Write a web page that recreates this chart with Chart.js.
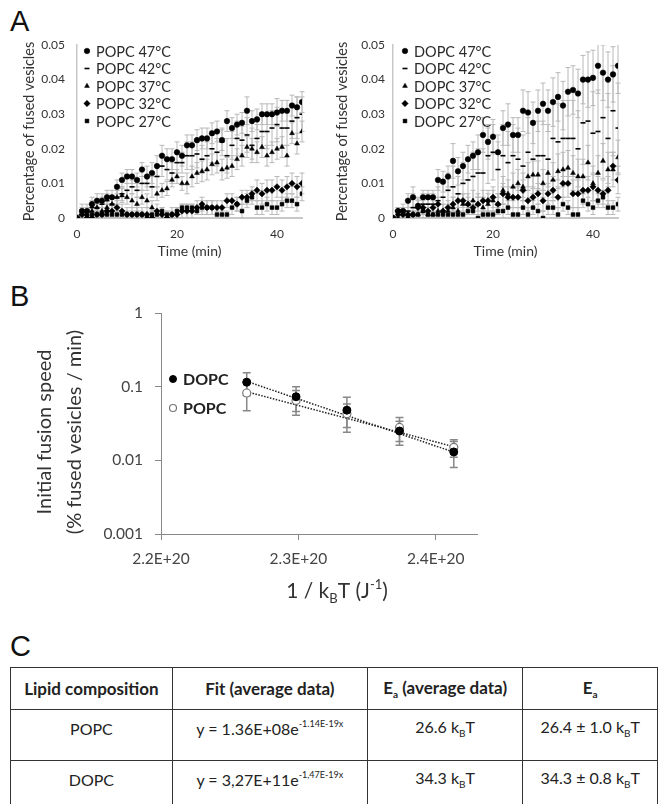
<!DOCTYPE html>
<html lang="en">
<head>
<meta charset="UTF-8">
<title>Vesicle fusion kinetics</title>
<script src="https://cdn.jsdelivr.net/npm/chart.js"></script>
<style>
  body { margin: 0; background: #fff; }
  #page { position: relative; width: 658px; height: 804px; overflow: hidden; font-family: Lato, sans-serif; color: #222; }
  .panel-label { position: absolute; left: 10px; font-family: 'Liberation Sans', Arial, sans-serif; font-size: 29px; line-height: 1; color: #111; }
  canvas { position: absolute; }
  #ea-table { position: absolute; left: 10px; top: 667px; border-collapse: collapse; table-layout: fixed; font-size: 16px; }
  #ea-table th, #ea-table td { border: 1.5px solid #333; text-align: center; padding: 0; white-space: nowrap; }
  #ea-table th { font-weight: bold; font-size: 17px; height: 41px; }
  #ea-table tr.r1 td { height: 36px; padding-bottom: 14px; }
  #ea-table tr.r2 td { height: 36px; padding-bottom: 8px; }
  #ea-table sub { font-size: 10px; vertical-align: -4px; }
  #ea-table sup { font-size: 9px; vertical-align: 8px; }
</style>
</head>
<body>
<div id="page">
  <div class="panel-label" style="top:7px">A</div>
  <div class="panel-label" style="top:282px">B</div>
  <div class="panel-label" style="top:632px">C</div>

  <canvas id="popcChart" width="330" height="270" style="left:0;top:0"></canvas>
  <canvas id="dopcChart" width="328" height="270" style="left:330px;top:0"></canvas>
  <canvas id="speedChart" width="560" height="330" style="left:0;top:280px"></canvas>

  <!-- C: activation energies -->
  <table id="ea-table">
    <colgroup><col style="width:163px"><col style="width:197px"><col style="width:157px"><col style="width:136px"></colgroup>
    <tr><th>Lipid composition</th><th>Fit (average data)</th><th>E<sub>a</sub> (average data)</th><th>E<sub>a</sub></th></tr>
    <tr class="r1"><td>POPC</td><td>y = 1.36E+08e<sup>-1.14E-19x</sup></td><td>26.6 k<sub>B</sub>T</td><td>26.4 ± 1.0 k<sub>B</sub>T</td></tr>
    <tr class="r2"><td>DOPC</td><td>y = 3,27E+11e<sup>-1,47E-19x</sup></td><td>34.3 k<sub>B</sub>T</td><td>34.3 ± 0.8 k<sub>B</sub>T</td></tr>
  </table>
</div>

<script>
  // ---- A: fused vesicles vs time ----
  const minutes = [0,1,2,3,4,5,6,7,8,9,10,11,12,13,14,15,16,17,18,19,20,21,22,23,24,25,26,27,28,29,30,31,32,33,34,35,36,37,38,39,40,41,42,43,44,45];
  const timeTicks = [0, 20, 40];
  const timeTickLabels = ['0', '20', '40'];
  const fusedTicks = [0, 0.01, 0.02, 0.03, 0.04, 0.05];
  const fusedTickLabels = ['0', '0.01', '0.02', '0.03', '0.04', '0.05'];

  const popcLabels = ['POPC 47°C', 'POPC 42°C', 'POPC 37°C', 'POPC 32°C', 'POPC 27°C'];
  const popc47 = [0,0.002,0.002,0.004,0.005,0.005,0.006,0.006,0.009,0.011,0.012,0.012,0.011,0.014,0.012,0.013,0.015,0.018,0.017,0.017,0.019,0.018,0.021,0.021,0.0225,0.023,0.023,0.0245,0.025,0.0225,0.028,0.026,0.027,0.0275,0.031,0.028,0.0285,0.030,0.030,0.030,0.0305,0.031,0.031,0.0325,0.032,0.0335];
  const popc42 = [0,0.001,0.002,0.003,0.003,0.004,0.005,0.004,0.006,0.007,0.008,0.009,0.008,0.010,0.010,0.009,0.012,0.015,0.014,0.013,0.016,0.016,0.018,0.018,0.0185,0.017,0.018,0.020,0.019,0.022,0.018,0.021,0.023,0.0225,0.024,0.021,0.023,0.025,0.025,0.026,0.027,0.026,0.026,0.028,0.029,0.030];
  const popc37 = [0,0.001,0.001,0.002,0.003,0.002,0.003,0.004,0.006,0.0065,0.006,0.005,0.004,0.006,0.005,0.003,0.007,0.008,0.0085,0.011,0.012,0.010,0.010,0.012,0.013,0.0135,0.014,0.0155,0.016,0.014,0.0145,0.015,0.017,0.018,0.0205,0.020,0.019,0.0205,0.018,0.019,0.020,0.0205,0.018,0.0245,0.0215,0.025];
  const popc32 = [0,0.001,0,0,0.001,0.001,0.002,0.002,0.003,0.002,0.001,0.001,0.001,0.001,0.001,0,0.002,0.001,0,0.001,0.001,0.002,0.002,0.002,0.003,0.004,0.003,0.003,0.003,0.003,0.005,0.005,0.004,0.006,0.006,0.007,0.008,0.007,0.008,0.008,0.009,0.008,0.009,0.010,0.009,0.010];
  const popc27 = [0,0.002,0.001,0.001,0.001,0.001,0.001,0.001,0.001,0.001,0.001,0.001,0.001,0.001,0,0.001,0.001,0.002,0.001,0.001,0.002,0.003,0.003,0.003,0.002,0.003,0.003,0.003,0.001,0.001,0.001,0.003,0.004,0.002,0.005,0.006,0.003,0.003,0.004,0.003,0.003,0.004,0.005,0.005,0.004,0.007];
  const popc47Err = [0,0.002,0.002,0.002,0.002,0.002,0.002,0.002,0.002,0.002,0.002,0.002,0.002,0.002,0.003,0.003,0.003,0.003,0.003,0.003,0.003,0.003,0.003,0.003,0.003,0.003,0.003,0.003,0.003,0.003,0.003,0.003,0.003,0.003,0.004,0.003,0.003,0.003,0.003,0.003,0.004,0.003,0.003,0.003,0.003,0.003];
  const popc42Err = [0,0.001,0.001,0.002,0.002,0.002,0.002,0.002,0.002,0.002,0.002,0.002,0.002,0.002,0.002,0.003,0.003,0.003,0.003,0.003,0.003,0.003,0.004,0.004,0.004,0.004,0.004,0.004,0.004,0.004,0.005,0.004,0.005,0.004,0.005,0.005,0.004,0.005,0.005,0.005,0.005,0.005,0.005,0.005,0.006,0.005];
  const popc37Err = [0,0.001,0.001,0.001,0.001,0.002,0.001,0.002,0.002,0.002,0.002,0.002,0.002,0.002,0.002,0.002,0.002,0.002,0.002,0.002,0.002,0.002,0.003,0.003,0.003,0.003,0.003,0.003,0.003,0.003,0.003,0.003,0.003,0.003,0.003,0.003,0.003,0.003,0.003,0.003,0.003,0.003,0.003,0.003,0.003,0.003];
  const popc32Err = [0,0.001,0.001,0.001,0.001,0.001,0.001,0.002,0.002,0.002,0.002,0.002,0.002,0.002,0.002,0.002,0.002,0.002,0.002,0.002,0.002,0.002,0.002,0.002,0.002,0.002,0.002,0.002,0.002,0.002,0.002,0.002,0.002,0.002,0.002,0.002,0.003,0.003,0.003,0.003,0.003,0.003,0.003,0.003,0.003,0.003];
  const popc27Err = [0,0.001,0.001,0.001,0.001,0.001,0.001,0.001,0.001,0.001,0.001,0.001,0.001,0.001,0.001,0.001,0.001,0.001,0.001,0.001,0.001,0.001,0.001,0.001,0.001,0.002,0.002,0.002,0.001,0.001,0.001,0.002,0.002,0.002,0.002,0.002,0.002,0.002,0.002,0.002,0.002,0.002,0.002,0.002,0.002,0.002];

  const dopcLabels = ['DOPC 47°C', 'DOPC 42°C', 'DOPC 37°C', 'DOPC 32°C', 'DOPC 27°C'];
  const dopc47 = [0,0.002,0.002,0.005,0.006,0.0035,0.006,0.006,0.006,0.011,0.0105,0.012,0.0165,0.0135,0.015,0.017,0.018,0.019,0.024,0.022,0.0235,0.019,0.026,0.027,0.024,0.024,0.031,0.0305,0.0275,0.031,0.033,0.031,0.0335,0.035,0.0325,0.0365,0.037,0.036,0.040,0.040,0.0405,0.044,0.042,0.040,0.0415,0.044];
  const dopc42 = [0,0.001,0.002,0.002,0.003,0.003,0.004,0.004,0.004,0.005,0.006,0.008,0.009,0.007,0.010,0.011,0.012,0.013,0.013,0.018,0.019,0.014,0.018,0.016,0.018,0.017,0.015,0.019,0.017,0.018,0.018,0.017,0.023,0.022,0.023,0.023,0.023,0.020,0.0275,0.028,0.0245,0.025,0.029,0.023,0.031,0.026];
  const dopc37 = [0,0,0.001,0.001,0.001,0.001,0.002,0.001,0.001,0.002,0.002,0.002,0.003,0.002,0.004,0.004,0.005,0.004,0.003,0.004,0.005,0.004,0.008,0.007,0.009,0.010,0.009,0.012,0.0125,0.0125,0.010,0.013,0.011,0.0135,0.014,0.0145,0.013,0.012,0.012,0.016,0.010,0.013,0.0165,0.014,0.014,0.0175];
  const dopc32 = [0,0.002,0.001,0.001,0.001,0.003,0.003,0.002,0.003,0.004,0.002,0.003,0.004,0.005,0.005,0.004,0.003,0.004,0.005,0.005,0.006,0.004,0.007,0.006,0.006,0.006,0.008,0.005,0.006,0.007,0.005,0.007,0.008,0.006,0.010,0.010,0.007,0.007,0.008,0.008,0.009,0.008,0.007,0.008,0.015,0.011];
  const dopc27 = [0,0.001,0.002,0,0.001,0.001,0.002,0.001,0.001,0.001,0.001,0.001,0.001,0.001,0.001,0.002,0.002,0,0.001,0.001,0.001,0.002,0.002,0.003,0.001,0.001,0.003,0.001,0.003,0.002,0,0.003,0.003,0.001,0.004,0.003,0.001,0.001,0.005,0.004,0.003,0.005,0.006,0.003,0.003,0.004];
  const dopc47Err = [0,0.001,0.001,0.002,0.003,0.002,0.002,0.002,0.002,0.003,0.003,0.003,0.005,0.004,0.004,0.004,0.004,0.005,0.005,0.005,0.005,0.005,0.005,0.006,0.005,0.005,0.006,0.006,0.006,0.006,0.006,0.006,0.007,0.007,0.007,0.007,0.007,0.007,0.007,0.008,0.008,0.008,0.008,0.008,0.008,0.008];
  const dopc42Err = [0,0.002,0.002,0.003,0.004,0.003,0.003,0.003,0.003,0.004,0.004,0.005,0.006,0.005,0.006,0.006,0.007,0.007,0.007,0.008,0.008,0.008,0.009,0.009,0.009,0.009,0.009,0.010,0.010,0.010,0.010,0.010,0.011,0.011,0.011,0.011,0.011,0.011,0.012,0.012,0.012,0.012,0.013,0.013,0.013,0.013];
  const dopc37Err = [0,0.001,0.001,0.001,0.001,0.001,0.002,0.002,0.002,0.002,0.002,0.002,0.003,0.003,0.003,0.003,0.003,0.003,0.003,0.003,0.003,0.003,0.004,0.004,0.004,0.004,0.004,0.004,0.004,0.004,0.004,0.004,0.005,0.005,0.005,0.005,0.005,0.005,0.005,0.005,0.005,0.005,0.005,0.005,0.005,0.005];
  const dopc32Err = [0,0.001,0.001,0.001,0.001,0.002,0.002,0.002,0.002,0.002,0.002,0.002,0.002,0.002,0.002,0.002,0.002,0.002,0.003,0.003,0.003,0.003,0.003,0.003,0.003,0.003,0.003,0.003,0.003,0.003,0.003,0.003,0.003,0.003,0.004,0.004,0.004,0.004,0.004,0.004,0.004,0.004,0.004,0.004,0.004,0.004];
  const dopc27Err = [0,0.001,0.001,0.001,0.001,0.001,0.001,0.001,0.001,0.001,0.001,0.001,0.001,0.001,0.001,0.001,0.001,0.001,0.001,0.001,0.001,0.001,0.002,0.002,0.002,0.002,0.002,0.002,0.002,0.002,0.002,0.002,0.002,0.002,0.002,0.002,0.002,0.002,0.002,0.002,0.002,0.002,0.002,0.002,0.002,0.002];

  // ---- B: Arrhenius plot ----
  const invKT = [2.2624e20, 2.2983e20, 2.3353e20, 2.3736e20, 2.4131e20];
  const dopcSpeed = [0.115, 0.073, 0.048, 0.025, 0.013];
  const dopcSpeedErr = [0.04, 0.027, 0.024, 0.009, 0.005];
  const popcSpeed = [0.082, 0.065, 0.043, 0.028, 0.015];
  const popcSpeedErr = [0.035, 0.024, 0.015, 0.010, 0.004];
  const fitX = [2.2624e20, 2.4131e20];
  const dopcFit = [0.118, 0.0129];
  const popcFit = [0.0853, 0.0153];
  const invKTTicks = [2.2e20, 2.3e20, 2.4e20];
  const invKTTickLabels = ['2.2E+20', '2.3E+20', '2.4E+20'];
  const speedTicks = [0.001, 0.01, 0.1, 1];
  const speedTickLabels = ['0.001', '0.01', '0.1', '1'];

  const FONT = 'Lato, sans-serif';
  // marker look per temperature, 47 → 27 °C
  const markerStyles = [
    { pointStyle: 'circle', radius: 2.8 },
    { pointStyle: 'line', radius: 2.5 },
    { pointStyle: 'triangle', radius: 2.8 },
    { pointStyle: 'rectRot', radius: 3.2 },
    { pointStyle: 'rect', radius: 2.7 }
  ];

  const xy = (xs, ys) => xs.map((x, i) => ({ x, y: ys[i] }));

  // error bars drawn under the markers
  const errorBars = {
    id: 'errorBars',
    beforeDatasetsDraw(chart, args, opts) {
      const { ctx, chartArea } = chart;
      ctx.save();
      ctx.beginPath();
      ctx.rect(chartArea.left - 5, chartArea.top, chartArea.width + 10, chartArea.height);
      ctx.clip();
      chart.data.datasets.forEach((ds, di) => {
        if (!ds.errors) return;
        const meta = chart.getDatasetMeta(di);
        const xs = chart.scales[meta.xAxisID], ys = chart.scales[meta.yAxisID];
        ctx.strokeStyle = opts.color;
        ctx.lineWidth = opts.width;
        ds.data.forEach((p, i) => {
          const e = ds.errors[i];
          if (!e) return;
          const x = xs.getPixelForValue(p.x);
          const yHi = ys.getPixelForValue(p.y + e);
          const yLo = ys.getPixelForValue(p.y - e);
          ctx.beginPath();
          ctx.moveTo(x, yHi); ctx.lineTo(x, yLo);
          ctx.moveTo(x - opts.cap, yHi); ctx.lineTo(x + opts.cap, yHi);
          ctx.moveTo(x - opts.cap, yLo); ctx.lineTo(x + opts.cap, yLo);
          ctx.stroke();
        });
      });
      ctx.restore();
    }
  };

  // legend with markers placed inside the plot
  const markerLegend = {
    id: 'markerLegend',
    afterDraw(chart, args, o) {
      if (o.x === undefined) return;
      const ctx = chart.ctx;
      ctx.save();
      ctx.textBaseline = 'middle';
      let row = 0;
      chart.data.datasets.forEach(ds => {
        if (ds.noLegend) return;
        const y = o.y + row * o.gap;
        row++;
        ctx.fillStyle = ds.pointBackgroundColor;
        ctx.strokeStyle = ds.pointBorderColor;
        ctx.lineWidth = ds.pointBorderWidth;
        Chart.helpers.drawPoint(ctx, { pointStyle: ds.pointStyle, radius: o.radius || ds.pointRadius, rotation: 0, borderWidth: ds.pointBorderWidth }, o.x, y);
        ctx.font = o.font;
        ctx.fillStyle = o.color;
        ctx.fillText(ds.label, o.x + o.textGap, y + 1);
      });
      ctx.restore();
    }
  };

  // x title with sub/superscript parts
  const richTitle = {
    id: 'richTitle',
    afterDraw(chart, args, o) {
      if (!o.parts) return;
      const ctx = chart.ctx;
      ctx.save();
      ctx.fillStyle = o.color;
      ctx.textBaseline = 'alphabetic';
      const fontOf = p => `${p.k ? Math.round(o.size * 0.62) : o.size}px ${FONT}`;
      let w = 0;
      o.parts.forEach(p => { ctx.font = fontOf(p); w += ctx.measureText(p.t).width; });
      let x = o.x - w / 2;
      o.parts.forEach(p => {
        ctx.font = fontOf(p);
        const dy = p.k === 'sub' ? o.size * 0.22 : p.k === 'sup' ? -o.size * 0.42 : 0;
        ctx.fillText(p.t, x, o.y + dy);
        x += ctx.measureText(p.t).width;
      });
      ctx.restore();
    }
  };

  // rotated y title lines, centred on a chosen height
  const sideTitle = {
    id: 'sideTitle',
    afterDraw(chart, args, o) {
      if (!o.lines) return;
      const ctx = chart.ctx;
      ctx.save();
      ctx.font = o.font;
      ctx.fillStyle = o.color;
      ctx.textAlign = 'center';
      ctx.textBaseline = 'middle';
      o.lines.forEach(l => {
        ctx.save();
        ctx.translate(l.x, o.cy);
        ctx.rotate(-Math.PI / 2);
        ctx.fillText(l.text, 0, 0);
        ctx.restore();
      });
      ctx.restore();
    }
  };

  Chart.register(errorBars, markerLegend, richTitle, sideTitle);

  function timeChart(id, labels, series, errors, layout) {
    const datasets = series.map((vals, i) => ({
      label: labels[i],
      data: xy(minutes, vals),
      errors: errors[i],
      pointStyle: markerStyles[i].pointStyle,
      pointRadius: markerStyles[i].radius,
      pointBackgroundColor: '#000',
      pointBorderColor: '#000',
      pointBorderWidth: markerStyles[i].pointStyle === 'line' ? 1.6 : 0.5,
      showLine: false
    }));
    return new Chart(document.getElementById(id), {
      type: 'scatter',
      data: { datasets },
      options: {
        responsive: false,
        animation: false,
        events: [],
        layout: { padding: { left: 0, top: 45, right: layout.right, bottom: 0 } },
        plugins: {
          legend: { display: false },
          tooltip: { enabled: false },
          errorBars: { color: '#b8b8b8', width: 1, cap: 2.5 },
          markerLegend: { x: layout.legendX, y: 51, gap: 17.5, textGap: 9, font: `14.5px ${FONT}`, color: '#2a2a2a' }
        },
        scales: {
          x: {
            type: 'linear', min: 0, max: 45,
            afterBuildTicks: s => { s.ticks = timeTicks.map(v => ({ value: v })); },
            afterFit: s => { s.height = 52; },
            grid: { display: false, drawTicks: false },
            border: { color: '#c8c8c8', width: 2 },
            ticks: { padding: 9, maxRotation: 0, color: '#333', font: { family: FONT, size: 12 }, callback: (v, i) => timeTickLabels[i] },
            title: { display: true, text: 'Time (min)', color: '#333', font: { family: FONT, size: 14 }, padding: { top: 0, bottom: 10 } }
          },
          y: {
            min: 0, max: 0.05,
            afterBuildTicks: s => { s.ticks = fusedTicks.map(v => ({ value: v })); },
            afterFit: s => { s.width = layout.axisW; },
            grid: { display: false, drawTicks: false },
            border: { color: '#c8c8c8', width: 1.5 },
            ticks: { padding: layout.tickPad, color: '#333', font: { family: FONT, size: 12 }, callback: (v, i) => fusedTickLabels[i] },
            title: { display: true, text: 'Percentage of fused vesicles', color: '#333', font: { family: FONT, size: 14.5 }, padding: { top: layout.titlePad } }
          }
        }
      }
    });
  }

  timeChart('popcChart', popcLabels, [popc47, popc42, popc37, popc32, popc27],
    [popc47Err, popc42Err, popc37Err, popc32Err, popc27Err],
    { right: 28, axisW: 77, tickPad: 12, titlePad: 21, legendX: 87 });

  timeChart('dopcChart', dopcLabels, [dopc47, dopc42, dopc37, dopc32, dopc27],
    [dopc47Err, dopc42Err, dopc37Err, dopc32Err, dopc27Err],
    { right: 40, axisW: 63, tickPad: 8, titlePad: 4, legendX: 75 });

  new Chart(document.getElementById('speedChart'), {
    type: 'scatter',
    data: {
      datasets: [
        { label: 'DOPC', data: xy(invKT, dopcSpeed), errors: dopcSpeedErr, pointStyle: 'circle', pointRadius: 4,
          pointBackgroundColor: '#000', pointBorderColor: '#000', pointBorderWidth: 1, showLine: false },
        { label: 'POPC', data: xy(invKT, popcSpeed), errors: popcSpeedErr, pointStyle: 'circle', pointRadius: 4,
          pointBackgroundColor: '#fff', pointBorderColor: '#777', pointBorderWidth: 1.2, showLine: false },
        { label: 'DOPC fit', noLegend: true, data: xy(fitX, dopcFit), showLine: true, pointRadius: 0,
          borderColor: '#222', borderWidth: 1.5, borderDash: [1.5, 1.5] },
        { label: 'POPC fit', noLegend: true, data: xy(fitX, popcFit), showLine: true, pointRadius: 0,
          borderColor: '#222', borderWidth: 1.5, borderDash: [1.5, 1.5] }
      ]
    },
    options: {
      responsive: false,
      animation: false,
      events: [],
      layout: { padding: { left: 0, top: 33, right: 83, bottom: 0 } },
      plugins: {
        legend: { display: false },
        tooltip: { enabled: false },
        errorBars: { color: '#888', width: 1.5, cap: 4 },
        markerLegend: { x: 173, y: 99, gap: 29, textGap: 10, radius: 3.5, font: `bold 16px ${FONT}`, color: '#222' },
        richTitle: { x: 337, y: 318, size: 21, color: '#333',
          parts: [{ t: '1 / k' }, { t: 'B', k: 'sub' }, { t: 'T (J' }, { t: '-1', k: 'sup' }, { t: ')' }] },
        sideTitle: { cy: 152, font: `20px ${FONT}`, color: '#333',
          lines: [{ text: 'Initial fusion speed', x: 45 }, { text: '(% fused vesicles / min)', x: 75 }] }
      },
      scales: {
        x: {
          type: 'linear', min: 2.2e20, max: 2.43e20,
          afterBuildTicks: s => { s.ticks = invKTTicks.map(v => ({ value: v })); },
          afterFit: s => { s.height = 76; },
          grid: { display: true, drawOnChartArea: false, drawTicks: true, tickLength: 6, color: '#888' },
          border: { color: '#888', width: 1 },
          ticks: { padding: 10, maxRotation: 0, color: '#444', font: { family: FONT, size: 15.5 }, callback: (v, i) => invKTTickLabels[i] }
        },
        y: {
          type: 'logarithmic', min: 0.001, max: 1,
          afterBuildTicks: s => { s.ticks = speedTicks.map(v => ({ value: v })); },
          afterFit: s => { s.width = 161; },
          grid: { display: true, drawOnChartArea: false, drawTicks: true, tickLength: 6, color: '#888' },
          border: { color: '#888', width: 1 },
          ticks: { padding: 12, color: '#444', font: { family: FONT, size: 15.5 }, callback: (v, i) => speedTickLabels[i] }
        }
      }
    }
  });
</script>
</body>
</html>
